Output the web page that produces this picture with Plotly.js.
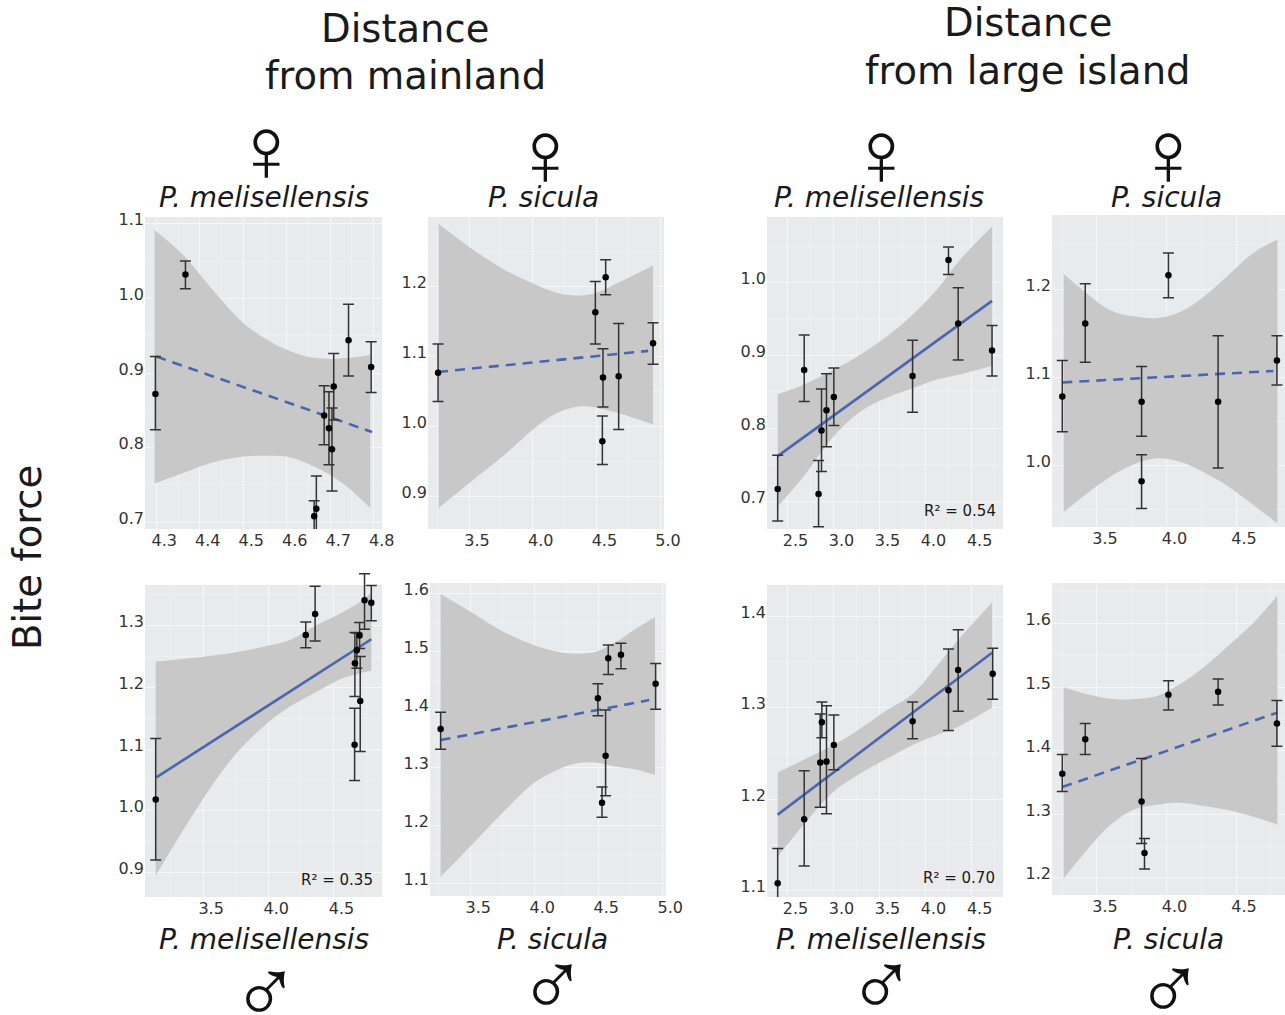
<!DOCTYPE html>
<html><head><meta charset="utf-8">
<script src="https://cdn.plot.ly/plotly-3.0.1.min.js"></script>
<style>html,body{margin:0;padding:0;background:#fff}</style></head>
<body><div id="chart" style="width:1285px;height:1015px"></div>
<script>
// Female, P. melisellensis, distance from mainland
const aX=[4.298,4.367,4.686,4.697,4.704,4.708,4.742,4.794,4.668,4.663];
const aY=[.872,1.032,.843,.826,.798,.882,.944,.908,.718,.708];
const aHi=[.922,1.05,.883,.875,.853,.926,.992,.942,.762,.729];
const aLo=[.824,1.013,.804,.777,.742,.837,.896,.874,.672,.665];
const aBandX=[4.296,4.362,4.423,4.5,4.554,4.6,4.646,4.692,4.738,4.792];
const aBandU=[1.0915,1.058,1.016,.967,.945,.931,.922,.919,.92,.924];
const aBandL=[.752,.766,.779,.788,.789,.788,.779,.766,.748,.719];
const aLineX=[4.3,4.796], aLineY=[.922,.821];
// Female, P. sicula, distance from mainland
const bX=[3.257,4.492,4.573,4.552,4.547,4.675,4.945];
const bY=[1.077,1.163,1.213,1.07,.979,1.072,1.119];
const bHi=[1.118,1.207,1.238,1.111,1.015,1.147,1.148];
const bLo=[1.036,1.118,1.188,1.028,.946,.996,1.089];
const bBandX=[3.262,3.505,3.767,4.003,4.186,4.37,4.5,4.657,4.945];
const bBandU=[1.289,1.256,1.225,1.204,1.191,1.187,1.191,1.204,1.23];
const bBandL=[.884,.92,.958,.996,1.019,1.029,1.027,1.02,1.003];
const bLineX=[3.257,4.906], bLineY=[1.078,1.108];
// Female, P. melisellensis, distance from large island
const cX=[2.394,2.682,2.838,2.87,2.924,3.004,3.859,4.249,4.354,4.722];
const cY=[.717,.88,.71,.797,.825,.843,.872,1.031,.944,.907];
const cHi=[.763,.928,.756,.854,.875,.883,.921,1.049,.993,.941];
const cLo=[.673,.837,.665,.741,.775,.804,.822,1.011,.894,.872];
const cBandX=[2.394,2.675,3.0,3.289,3.578,3.859,4.119,4.372,4.722];
const cBandU=[.847,.86,.88,.901,.926,.956,.99,1.031,1.077];
const cBandL=[.693,.734,.789,.823,.842,.855,.867,.874,.886];
const cLineX=[2.394,4.722], cLineY=[.762,.975];
// Female, P. sicula, distance from large island
const dX=[3.251,3.416,3.821,3.821,4.014,4.371,4.794];
const dY=[1.078,1.161,1.072,.982,1.2155,1.072,1.119];
const dHi=[1.119,1.206,1.112,1.012,1.241,1.147,1.147];
const dLo=[1.038,1.117,1.033,.951,1.19,.997,1.091];
const dBandX=[3.261,3.428,3.596,3.763,3.931,4.098,4.266,4.433,4.624,4.797];
const dBandU=[1.217,1.195,1.176,1.169,1.167,1.174,1.191,1.214,1.241,1.256];
const dBandL=[.947,.968,.987,1.001,1.008,1.004,.992,.977,.955,.934];
const dLineX=[3.251,4.768], dLineY=[1.094,1.107];
// Male, P. melisellensis, distance from mainland
const eX=[3.136,4.287,4.359,4.662,4.664,4.679,4.7,4.705,4.738,4.79];
const eY=[1.018,1.285,1.319,1.107,1.239,1.26,1.284,1.178,1.341,1.337];
const eHi=[1.117,1.306,1.364,1.166,1.289,1.288,1.305,1.25,1.384,1.365];
const eLo=[.92,1.264,1.275,1.049,1.185,1.231,1.263,1.096,1.294,1.308];
const eBandX=[3.136,3.474,3.731,3.987,4.167,4.372,4.5,4.603,4.705,4.79];
const eBandU=[1.242,1.249,1.256,1.267,1.277,1.301,1.314,1.326,1.339,1.354];
const eBandL=[.895,1.011,1.087,1.141,1.169,1.193,1.208,1.217,1.223,1.227];
const eLineX=[3.141,4.79], eLineY=[1.054,1.278];
// Male, P. sicula, distance from mainland
const fX=[3.268,4.497,4.578,4.677,4.529,4.557,4.948];
const fY=[1.366,1.419,1.488,1.494,1.239,1.32,1.444];
const fHi=[1.395,1.444,1.511,1.514,1.266,1.399,1.479];
const fLo=[1.331,1.389,1.46,1.47,1.214,1.251,1.4];
const fBandX=[3.268,3.497,3.758,3.992,4.174,4.331,4.487,4.643,4.799,4.943];
const fBandU=[1.599,1.569,1.534,1.511,1.5,1.496,1.5,1.517,1.54,1.559];
const fBandL=[1.111,1.163,1.223,1.272,1.295,1.307,1.308,1.301,1.296,1.287];
const fLineX=[3.268,4.898], fLineY=[1.347,1.416];
// Male, P. melisellensis, distance from large island
const gX=[2.394,2.682,2.856,2.874,2.924,3.004,3.859,4.249,4.354,4.729];
const gY=[1.108,1.178,1.24,1.284,1.241,1.259,1.285,1.319,1.341,1.337];
const gHi=[1.146,1.231,1.293,1.306,1.302,1.292,1.306,1.364,1.385,1.365];
const gLo=[1.07,1.127,1.191,1.267,1.184,1.232,1.266,1.275,1.296,1.309];
const gBandX=[2.394,2.675,3.0,3.289,3.578,3.859,4.119,4.372,4.722];
const gBandU=[1.229,1.243,1.259,1.277,1.297,1.315,1.345,1.376,1.415];
const gBandL=[1.137,1.172,1.208,1.228,1.244,1.259,1.27,1.28,1.3];
const gLineX=[2.394,4.722], gLineY=[1.183,1.36];
// Male, P. sicula, distance from large island
const hX=[3.251,3.416,3.821,3.842,4.014,4.371,4.794];
const hY=[1.364,1.418,1.32,1.239,1.488,1.493,1.443];
const hHi=[1.394,1.443,1.388,1.262,1.51,1.513,1.479];
const hLo=[1.336,1.394,1.254,1.214,1.464,1.472,1.407];
const hBandX=[3.261,3.428,3.596,3.763,3.931,4.098,4.266,4.433,4.624,4.797];
const hBandU=[1.5,1.489,1.482,1.481,1.486,1.505,1.531,1.563,1.601,1.644];
const hBandL=[1.199,1.244,1.283,1.307,1.315,1.318,1.313,1.307,1.296,1.284];
const hLineX=[3.251,4.797], hLineY=[1.343,1.46];

const W=1285,H=1015;
const panels=[
 {k:[aX,aY,aHi,aLo,aBandX,aBandU,aBandL,aLineX,aLineY],box:[145,382,217,529],xr:[4.274,4.819],yr:[.691,1.109],xd:.1,x0:4.3,dash:true},
 {k:[bX,bY,bHi,bLo,bBandX,bBandU,bBandL,bLineX,bLineY],box:[428,664,217,529],xr:[3.178,5.031],yr:[.854,1.299],xd:.5,x0:3.5,dash:true},
 {k:[cX,cY,cHi,cLo,cBandX,cBandU,cBandL,cLineX,cLineY],box:[767,1003,217,529],xr:[2.278,4.841],yr:[.662,1.09],xd:.5,x0:2.5,dash:false},
 {k:[dX,dY,dHi,dLo,dBandX,dBandU,dBandL,dLineX,dLineY],box:[1052,1285,215,527],xr:[3.177,4.852],yr:[.93,1.284],xd:.5,x0:3.5,dash:true},
 {k:[eX,eY,eHi,eLo,eBandX,eBandU,eBandL,eLineX,eLineY],box:[145,382,585,897],xr:[3.054,4.872],yr:[.86,1.366],xd:.5,x0:3.5,dash:false,overTop:{top:572,yMax:1.387}},
 {k:[fX,fY,fHi,fLo,fBandX,fBandU,fBandL,fLineX,fLineY],box:[430,666,583,896],xr:[3.185,5.029],yr:[1.078,1.618],xd:.5,x0:3.5,dash:true},
 {k:[gX,gY,gHi,gLo,gBandX,gBandU,gBandL,gLineX,gLineY],box:[767,1003,585,897],xr:[2.278,4.841],yr:[1.093,1.434],xd:.5,x0:2.5,dash:false},
 {k:[hX,hY,hHi,hLo,hBandX,hBandU,hBandL,hLineX,hLineY],box:[1052,1285,583,895],xr:[3.177,4.852],yr:[1.173,1.664],xd:.5,x0:3.5,dash:true}
];
const tickFont={family:'"DejaVu Sans",sans-serif',size:16,color:'#333'};
const traces=[];
const layout={width:W,height:H,margin:{l:0,r:0,t:0,b:0},paper_bgcolor:'#fff',plot_bgcolor:'rgba(0,0,0,0)',showlegend:false,annotations:[],shapes:[]};
let nextAxis=panels.length+1;
panels.forEach((p,i)=>{
 const n=i+1, xa='x'+n, ya='y'+n;
 const [x,y,hi,lo,bx,bu,bl,lx,ly]=p.k;
 const [l,r,t,b]=p.box;
 layout.shapes.push({type:'rect',xref:'paper',yref:'paper',x0:l/W,x1:r/W,y0:1-b/H,y1:1-t/H,fillcolor:'#e9eaec',line:{width:0},layer:'below'});
 const band={shape:'spline',smoothing:1,width:0,color:'#c9c8c8'};
 traces.push({type:'scatter',mode:'lines',xaxis:xa,yaxis:ya,x:bx,y:bl,line:band,hoverinfo:'skip'});
 traces.push({type:'scatter',mode:'lines',xaxis:xa,yaxis:ya,x:bx,y:bu,line:band,fill:'tonexty',fillcolor:'#c9c8c8',hoverinfo:'skip'});
 traces.push({type:'scatter',mode:'lines',xaxis:xa,yaxis:ya,x:lx,y:ly,line:{color:'#4a66b0',width:2.6,dash:p.dash?'10px,7px':'solid'}});
 let px=xa, py=ya;
 if(p.overTop){
  const m=nextAxis++;
  px='x'+m; py='y'+m;
  layout['xaxis'+m]={domain:[l/W,r/W],range:p.xr,anchor:py,visible:false};
  layout['yaxis'+m]={domain:[1-b/H,1-p.overTop.top/H],range:[p.yr[0],p.overTop.yMax],anchor:px,visible:false};
 }
 traces.push({type:'scatter',mode:'markers',xaxis:px,yaxis:py,x:x,y:y,marker:{color:'#000',size:6.5},
   error_y:{type:'data',symmetric:false,array:hi.map((v,j)=>v-y[j]),arrayminus:lo.map((v,j)=>y[j]-v),color:'#333',thickness:1.5,width:5.5}});
 layout['xaxis'+(n===1?'':n)]={domain:[l/W,r/W],range:p.xr,anchor:ya,tick0:p.x0,dtick:p.xd,showgrid:true,gridcolor:'#f6f6f7',gridwidth:1,zeroline:false,showline:false,ticks:'',tickfont:tickFont,tickformat:'.1f',ticklabelshift:8,minor:{dtick:p.xd/2,showgrid:true,gridcolor:'#eff0f1',gridwidth:.6,ticks:''}};
 layout['yaxis'+(n===1?'':n)]={domain:[1-b/H,1-t/H],range:p.yr,anchor:xa,tick0:0,dtick:.1,showgrid:true,gridcolor:'#f6f6f7',gridwidth:1,zeroline:false,showline:false,ticks:'',tickfont:tickFont,tickformat:'.1f',ticklabelshift:-4,minor:{dtick:.05,showgrid:true,gridcolor:'#eff0f1',gridwidth:.6,ticks:''}};
});
function note(text,px,py,size,extra){
 layout.annotations.push(Object.assign({text:text,xref:'paper',yref:'paper',x:px/W,y:1-py/H,xanchor:'center',yanchor:'middle',showarrow:false,font:{family:'"DejaVu Sans",sans-serif',size:size,color:'#1a1a1a'}},extra||{}));
}
note('Distance',405,28,38.5); note('from mainland',405,75,38.5);
note('Distance',1028,23,38.5); note('from large island',1028,71,38.5);
note('Bite force',27,558,38.5,{textangle:-90});
const sp1='<i>P. melisellensis</i>', sp2='<i>P. sicula</i>';
[[sp1,264],[sp2,543],[sp1,879],[sp2,1166]].forEach(a=>note(a[0],a[1],197,28));
[[sp1,264],[sp2,552],[sp1,881],[sp2,1168]].forEach(a=>note(a[0],a[1],939,28));
const sym={font:{family:'"Liberation Sans",sans-serif',size:92,color:'#111'}};
[[266,149],[545,153],[881,153],[1168,153]].forEach(a=>note('\u2640',a[0],a[1],92,sym));
[[265,991],[552,984],[881,984],[1169,988]].forEach(a=>note('\u2642',a[0],a[1],92,sym));
[['R² = 0.54',998,511],['R² = 0.35',375,880],['R² = 0.70',997,878]].forEach(a=>note(a[0],a[1],a[2],15,{xanchor:'right'}));
Plotly.newPlot('chart',traces,layout,{displayModeBar:false,responsive:false});
</script></body></html>
